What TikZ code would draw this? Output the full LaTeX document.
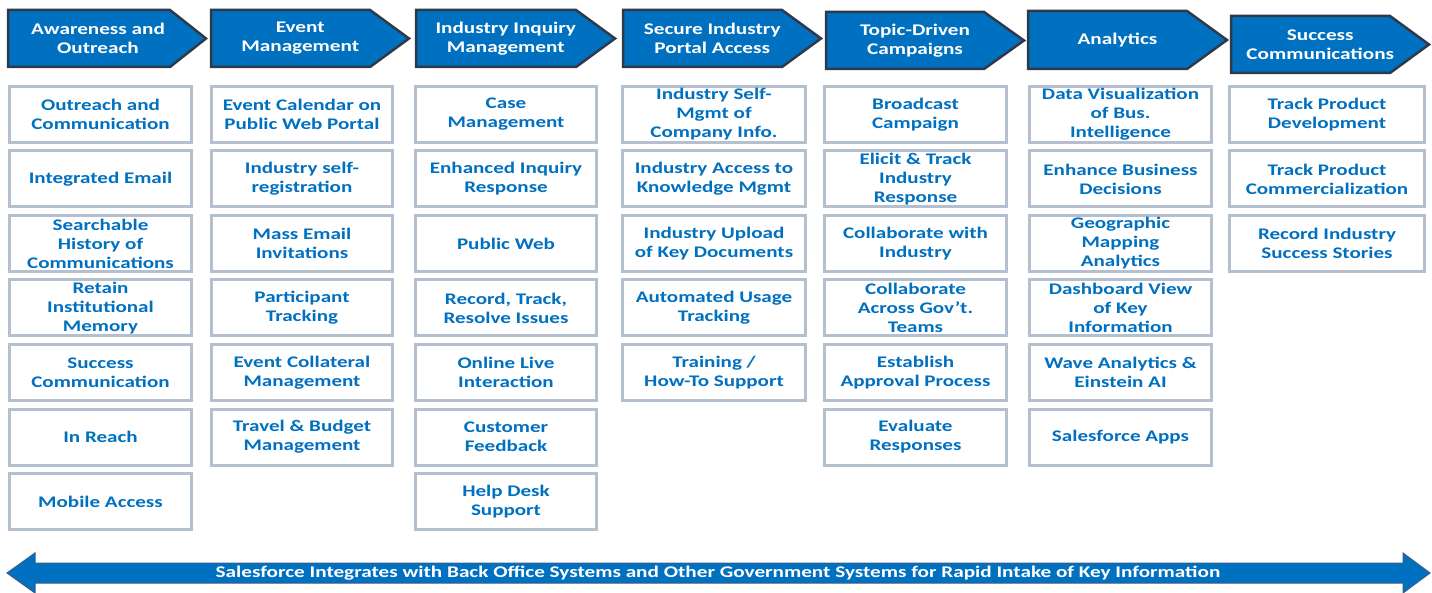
\documentclass[tikz,border=0pt]{standalone}
\usepackage{fontspec}
\setmainfont{Carlito}[FakeStretch=1.3]
\definecolor{sfblue}{HTML}{0070C0}
\definecolor{hdredge}{HTML}{2E3A4A}
\definecolor{celledge}{HTML}{B4BFD0}
\definecolor{baredge}{HTML}{3B5B8C}

\tikzset{
  hdr/.style={fill=sfblue, draw=hdredge, line width=2.5pt, line join=miter},
  hdrtext/.style={text=white, font=\fontsize{16.3}{19}\selectfont\bfseries, align=center, inner sep=0pt},
  cell/.style={draw=celledge, fill=white, line width=3pt, text=sfblue,
    font=\fontsize{16.2}{19}\selectfont\bfseries, align=center, inner sep=0pt},
  bar/.style={fill=sfblue, draw=baredge, line width=1pt, line join=miter},
  bartext/.style={text=white, font=\fontsize{16.3}{18}\selectfont\bfseries, inner sep=0pt}
}

% chevron header: name, left, top, bottom, shoulder x, tip x, label
\newcommand\hdrchev[7]{%
  \draw[hdr] (#2,#3) -- (#5,#3) -- (#6,{(#3+#4)/2}) -- (#5,#4) -- (#2,#4) -- cycle;
  \node[hdrtext] (#1) at ({(2*#2+#5+#6)/4},{(#3+#4)/2}) {#7};
}
% cell box: name, left, right, row, label
\newcommand\featcell[5]{%
  \node[cell, minimum width={#3-#2-3}, minimum height=56pt]
    (#1) at ({(#2+#3)/2},{85+(#4-1)*64.5+29.5}) {#5};
}

\begin{document}
\begin{tikzpicture}[x=1pt,y=-1pt]
\useasboundingbox (0,0) rectangle (1432,593);

% stage headers
\hdrchev{h1}{8}{10}{67}{170}{206}{Awareness and\\Outreach}
\hdrchev{h2}{211}{10}{67}{370}{409}{Event\\Management}
\hdrchev{h3}{416}{10}{67}{576}{615}{Industry Inquiry\\Management}
\hdrchev{h4}{623}{10}{67}{782}{821}{Secure Industry\\Portal Access}
\hdrchev{h5}{826}{12}{69}{984}{1024}{Topic-Driven\\Campaigns}
\hdrchev{h6}{1028}{11}{69}{1187}{1227}{Analytics}
\hdrchev{h7}{1231}{16}{73}{1390}{1429}{Success\\Communications}

% Awareness and Outreach
\featcell{a1}{8}{193}{1}{Outreach and\\Communication}
\featcell{a2}{8}{193}{2}{Integrated Email}
\featcell{a3}{8}{193}{3}{Searchable\\History of\\Communications}
\featcell{a4}{8}{193}{4}{Retain\\Institutional\\Memory}
\featcell{a5}{8}{193}{5}{Success\\Communication}
\featcell{a6}{8}{193}{6}{In Reach}
\featcell{a7}{8}{193}{7}{Mobile Access}

% Event Management
\featcell{b1}{210}{394}{1}{Event Calendar on\\Public Web Portal}
\featcell{b2}{210}{394}{2}{Industry self-\\registration}
\featcell{b3}{210}{394}{3}{Mass Email\\Invitations}
\featcell{b4}{210}{394}{4}{Participant\\Tracking}
\featcell{b5}{210}{394}{5}{Event Collateral\\Management}
\featcell{b6}{210}{394}{6}{Travel \& Budget\\Management}

% Industry Inquiry Management
\featcell{c1}{414}{598}{1}{Case\\Management}
\featcell{c2}{414}{598}{2}{Enhanced Inquiry\\Response}
\featcell{c3}{414}{598}{3}{Public Web}
\featcell{c4}{414}{598}{4}{Record, Track,\\Resolve Issues}
\featcell{c5}{414}{598}{5}{Online Live\\Interaction}
\featcell{c6}{414}{598}{6}{Customer\\Feedback}
\featcell{c7}{414}{598}{7}{Help Desk\\Support}

% Secure Industry Portal Access
\featcell{d1}{621}{807}{1}{Industry Self-\\Mgmt of\\Company Info.}
\featcell{d2}{621}{807}{2}{Industry Access to\\Knowledge Mgmt}
\featcell{d3}{621}{807}{3}{Industry Upload\\of Key Documents}
\featcell{d4}{621}{807}{4}{Automated Usage\\Tracking}
\featcell{d5}{621}{807}{5}{Training /\\How-To Support}

% Topic-Driven Campaigns
\featcell{e1}{823}{1008}{1}{Broadcast\\Campaign}
\featcell{e2}{823}{1008}{2}{Elicit \& Track\\Industry\\Response}
\featcell{e3}{823}{1008}{3}{Collaborate with\\Industry}
\featcell{e4}{823}{1008}{4}{Collaborate\\Across Gov’t.\\Teams}
\featcell{e5}{823}{1008}{5}{Establish\\Approval Process}
\featcell{e6}{823}{1008}{6}{Evaluate\\Responses}

% Analytics
\featcell{f1}{1028}{1213}{1}{Data Visualization\\of Bus.\\Intelligence}
\featcell{f2}{1028}{1213}{2}{Enhance Business\\Decisions}
\featcell{f3}{1028}{1213}{3}{Geographic\\Mapping\\Analytics}
\featcell{f4}{1028}{1213}{4}{Dashboard View\\of Key\\Information}
\featcell{f5}{1028}{1213}{5}{Wave Analytics \&\\Einstein AI}
\featcell{f6}{1028}{1213}{6}{Salesforce Apps}

% Success Communications
\featcell{g1}{1228}{1426}{1}{Track Product\\Development}
\featcell{g2}{1228}{1426}{2}{Track Product\\Commercialization}
\featcell{g3}{1228}{1426}{3}{Record Industry\\Success Stories}

% integration bar
\draw[bar] (7,573) -- (35,553) -- (35,563) -- (1403,563) -- (1403,553) -- (1430,573)
  -- (1403,593) -- (1403,583) -- (35,583) -- (35,593) -- cycle;
\node[bartext] (bartxt) at (718,573) {Salesforce Integrates with Back Office Systems and Other Government Systems for Rapid Intake of Key Information};
\end{tikzpicture}
\end{document}
